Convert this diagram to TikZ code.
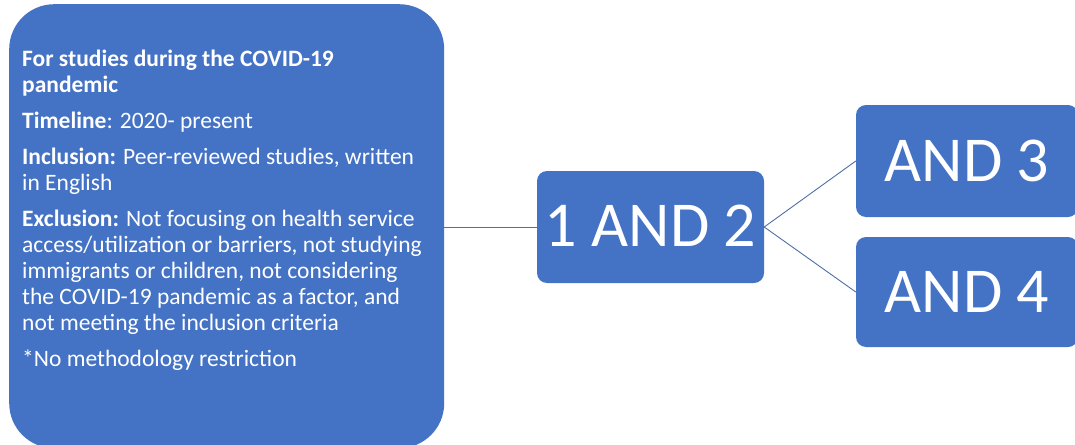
\documentclass[tikz,border=0pt]{standalone}
\usepackage{fontspec}
\setmainfont{Carlito}
\definecolor{boxblue}{HTML}{4472C4}
\definecolor{linkblue}{HTML}{4F6FA6}
\begin{document}
\begin{tikzpicture}[x=1pt,y=-1pt,
  card/.style={fill=boxblue, draw=none, text=white, inner sep=0pt},
  bigcard/.style={card, rounded corners=10pt, font=\fontsize{64}{64}\selectfont},
  link/.style={draw=linkblue, line width=0.9pt}]
\useasboundingbox (0,0) rectangle (1075,444);
\fill[white] (0,0) rectangle (1075,444);
\begin{scope}
  \clip (0,0) rectangle (1075,444);
  % criteria panel (runs off the lower edge)
  \node[card, rounded corners=45pt, minimum width=435pt, minimum height=444pt,
        anchor=north west] (crit) at (9,4) {};
  \node[anchor=north west, text=white, align=left, inner sep=0pt,
        font=\fontsize{23.5}{26}\selectfont] (crittext) at (22,50)
    {\textbf{For studies during the COVID-19}\\
     \textbf{pandemic}\\[10pt]
     \textbf{Timeline}: 2020- present\\[10pt]
     \textbf{Inclusion:} Peer-reviewed studies, written\\
     in English\\[10pt]
     \textbf{Exclusion:} Not focusing on health service\\
     access/utilization or barriers, not studying\\
     immigrants or children, not considering\\
     the COVID-19 pandemic as a factor, and\\
     not meeting the inclusion criteria\\[10pt]
     *No methodology restriction};
  % search term boxes
  \node[bigcard, minimum width=227pt, minimum height=112pt] (mid) at (650.5,227) {\raisebox{2pt}{1 AND 2}};
  \node[bigcard, minimum width=222pt, minimum height=112pt] (and3) at (967,161) {\raisebox{1pt}{AND 3}};
  \node[bigcard, minimum width=222pt, minimum height=110pt] (and4) at (967,292) {\raisebox{1pt}{AND 4}};
\end{scope}
% connectors
\draw[link] (crit.east |- mid.west) -- (mid.west);
\draw[link] (mid.east) -- (and3.west);
\draw[link] (mid.east) -- (and4.west);
\end{tikzpicture}
\end{document}
